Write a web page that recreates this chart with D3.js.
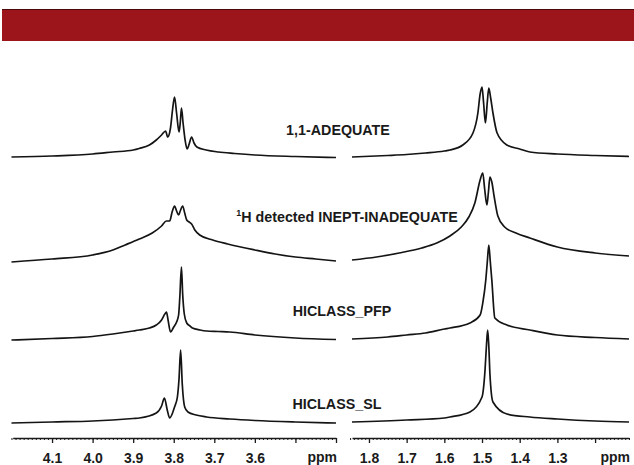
<!DOCTYPE html>
<html>
<head>
<meta charset="utf-8">
<script src="https://cdn.jsdelivr.net/npm/d3@7"></script>
<style>
  body { margin: 0; background: #fff; }
  text { font-family: "Liberation Sans", Arial, sans-serif; font-weight: bold; fill: #1a1a1a; }
</style>
</head>
<body>
<script>
// Data (ppm, intensity above the row baseline)

const leftTicks = [4.1, 4.0, 3.9, 3.8, 3.7, 3.6];
const rightTicks = [1.8, 1.7, 1.6, 1.5, 1.4, 1.3];
const experiments = ["1,1-ADEQUATE", "H detected INEPT-INADEQUATE", "HICLASS_PFP", "HICLASS_SL"];

const adequateCH = [
  [4.2, 1], [4.1, 2], [4.0, 4], [3.95, 6], [3.9, 8], [3.885, 9.5], [3.86, 13], [3.843, 18],
  [3.83, 23], [3.82, 27], [3.815, 21], [3.808, 30], [3.803, 48], [3.798, 61], [3.793, 45],
  [3.787, 26], [3.784, 35], [3.781, 50], [3.777, 35], [3.772, 18], [3.767, 9], [3.762, 14],
  [3.756, 21], [3.75, 15], [3.743, 11], [3.72, 8], [3.69, 6], [3.65, 4.5], [3.6, 3],
  [3.5, 1.5], [3.4, 0.5]
];
const adequateCH3 = [
  [1.845, 1], [1.75, 2.5], [1.7, 3.5], [1.65, 5], [1.6, 7], [1.585, 8], [1.551, 13],
  [1.524, 25], [1.511, 45], [1.505, 64], [1.5, 71], [1.496, 56], [1.491, 35], [1.486, 56],
  [1.482, 70], [1.477, 60], [1.471, 45], [1.46, 25], [1.434, 13], [1.4, 9], [1.373, 6],
  [1.3, 4], [1.2, 2.5], [1.11, 1.5]
];

const inadequateCH = [
  [4.2, 2], [4.1, 5], [4.0, 9], [3.95, 14], [3.92, 19], [3.885, 25], [3.853, 31], [3.83, 38],
  [3.818, 43], [3.81, 43], [3.804, 52], [3.798, 58], [3.793, 53], [3.788, 49], [3.784, 53],
  [3.778, 58], [3.773, 51], [3.768, 44], [3.762, 42], [3.756, 40], [3.748, 34], [3.736, 29],
  [3.704, 24], [3.667, 20], [3.6, 14], [3.55, 10], [3.5, 7], [3.45, 5], [3.4, 3]
];
const inadequateCH3 = [
  [1.845, 4], [1.78, 7], [1.72, 11], [1.66, 16], [1.62, 21], [1.585, 28], [1.555, 37],
  [1.535, 47], [1.519, 61], [1.505, 84], [1.498, 91], [1.493, 75], [1.487, 59], [1.483, 72],
  [1.479, 87], [1.474, 82], [1.468, 68], [1.458, 48], [1.44, 37], [1.41, 31], [1.373, 26],
  [1.3, 17], [1.2, 11], [1.11, 8]
];

const pfpCH = [
  [4.2, 2], [4.1, 3.5], [4.0, 5.5], [3.95, 8], [3.9, 11], [3.885, 12], [3.86, 14], [3.843, 17],
  [3.83, 22], [3.822, 28], [3.818, 30], [3.814, 22], [3.808, 10], [3.8, 15], [3.793, 20],
  [3.788, 27], [3.785, 45], [3.781, 75], [3.778, 48], [3.774, 28], [3.768, 19], [3.76, 16],
  [3.754, 14], [3.735, 12], [3.719, 11], [3.69, 10.5], [3.662, 10], [3.6, 7], [3.5, 4],
  [3.4, 2.5]
];
const pfpCH3 = [
  [1.845, 3], [1.75, 5], [1.7, 7], [1.65, 9], [1.6, 13], [1.585, 14], [1.532, 19], [1.505, 27],
  [1.498, 39], [1.49, 62], [1.486, 80], [1.482, 97], [1.478, 80], [1.474, 62], [1.466, 24],
  [1.434, 17], [1.373, 12], [1.3, 7], [1.2, 4.5], [1.11, 3]
];

const slCH = [
  [4.2, 1], [4.1, 2], [4.0, 3], [3.9, 5.5], [3.885, 6], [3.843, 11], [3.83, 18], [3.823, 26],
  [3.816, 14], [3.81, 6], [3.798, 17], [3.791, 27], [3.787, 45], [3.783, 74], [3.779, 40],
  [3.773, 17], [3.765, 12], [3.745, 9], [3.719, 7], [3.662, 5], [3.6, 3.5], [3.5, 2], [3.4, 1]
];
const slCH3 = [
  [1.845, 2], [1.7, 4], [1.6, 6], [1.585, 7], [1.532, 12], [1.5, 27], [1.492, 54],
  [1.488, 80], [1.485, 94], [1.482, 78], [1.479, 50], [1.471, 22], [1.434, 10], [1.373, 7],
  [1.3, 5], [1.2, 3], [1.11, 2]
];

const spectraCH = [adequateCH, inadequateCH, pfpCH, slCH];
const spectraCH3 = [adequateCH3, inadequateCH3, pfpCH3, slCH3];

// Layout

const width = 634;
const height = 465;
const rowBase = [158, 264, 342, 424];
const labelPos = [[338, 135], [347, 222], [342, 316], [337, 409]];
const axisY = 438;

const svg = d3.select("body")
  .append("svg")
  .attr("width", width)
  .attr("height", height)
  .attr("viewBox", `0 0 ${width} ${height}`);

// Banner

svg.append("rect")
  .attr("x", 2).attr("y", 9)
  .attr("width", width - 2).attr("height", 32)
  .attr("fill", "#9c151a");
svg.append("line")
  .attr("x1", 2).attr("x2", width).attr("y1", 9.5).attr("y2", 9.5)
  .attr("stroke", "#4a0a0c").attr("stroke-width", 1);

// Scales

const xLeft = d3.scaleLinear().domain([4.197, 3.4]).range([12.7, 336]);
const xRight = d3.scaleLinear().domain([1.845, 1.11]).range([352, 629]);
const yInt = d3.scaleLinear().domain([0, 100]).range([0, -100]);

// Spectra

const drawTrace = (x, data, base) => {
  const line = d3.line()
    .x((d) => x(d[0]))
    .y((d) => yInt(d[1]))
    .curve(d3.curveMonotoneX);
  svg.append("path")
    .attr("transform", `translate(0, ${base})`)
    .attr("d", line(data))
    .attr("fill", "none")
    .attr("stroke", "#141414")
    .attr("stroke-width", 1.7)
    .attr("stroke-linejoin", "round");
};

rowBase.forEach((base, i) => {
  drawTrace(xLeft, spectraCH[i], base);
  drawTrace(xRight, spectraCH3[i], base);
});

// Labels

experiments.forEach((name, i) => {
  const t = svg.append("text")
    .attr("x", labelPos[i][0])
    .attr("y", labelPos[i][1])
    .attr("text-anchor", "middle")
    .attr("font-size", 14.3);
  if (i === 1) {
    t.append("tspan").attr("font-size", 9).attr("dy", -6).text("1");
    t.append("tspan").attr("dy", 6).text(name);
  } else {
    t.text(name);
  }
});

// Axes

const drawAxis = (x, labels, majors) => {
  const [d0, d1] = x.domain();
  const minors = d3.range(Math.round(d1 * 100), Math.round(d0 * 100) + 1).map((v) => v / 100);

  svg.append("g")
    .attr("transform", `translate(0, ${axisY})`)
    .call(d3.axisBottom(x).tickValues(minors).tickSize(2).tickSizeOuter(0).tickFormat(""))
    .call((g) => g.select(".domain").attr("stroke", "#1a1a1a").attr("stroke-width", 1.5))
    .call((g) => g.selectAll(".tick line").attr("stroke", "#1a1a1a").attr("stroke-width", 1));

  const major = svg.append("g")
    .attr("transform", `translate(0, ${axisY})`)
    .call(d3.axisBottom(x)
      .tickValues(majors)
      .tickSize(5)
      .tickSizeOuter(0)
      .tickPadding(10)
      .tickFormat((d) => (labels.includes(d) ? d3.format(".1f")(d) : "")))
    .attr("font-family", null)
    .attr("font-size", null);
  major.select(".domain").remove();
  major.selectAll(".tick line").attr("stroke", "#1a1a1a").attr("stroke-width", 1.3);
  major.selectAll(".tick text").attr("font-size", 14).attr("fill", "#1a1a1a");

  svg.append("text")
    .attr("x", x.range()[1] + 1)
    .attr("y", axisY + 24)
    .attr("text-anchor", "end")
    .attr("font-size", 14)
    .text("ppm");
};

drawAxis(xLeft, leftTicks, [4.1, 4.0, 3.9, 3.8, 3.7, 3.6, 3.5, 3.4]);
drawAxis(xRight, rightTicks, [1.8, 1.7, 1.6, 1.5, 1.4, 1.3, 1.2]);
</script>
</body>
</html>
